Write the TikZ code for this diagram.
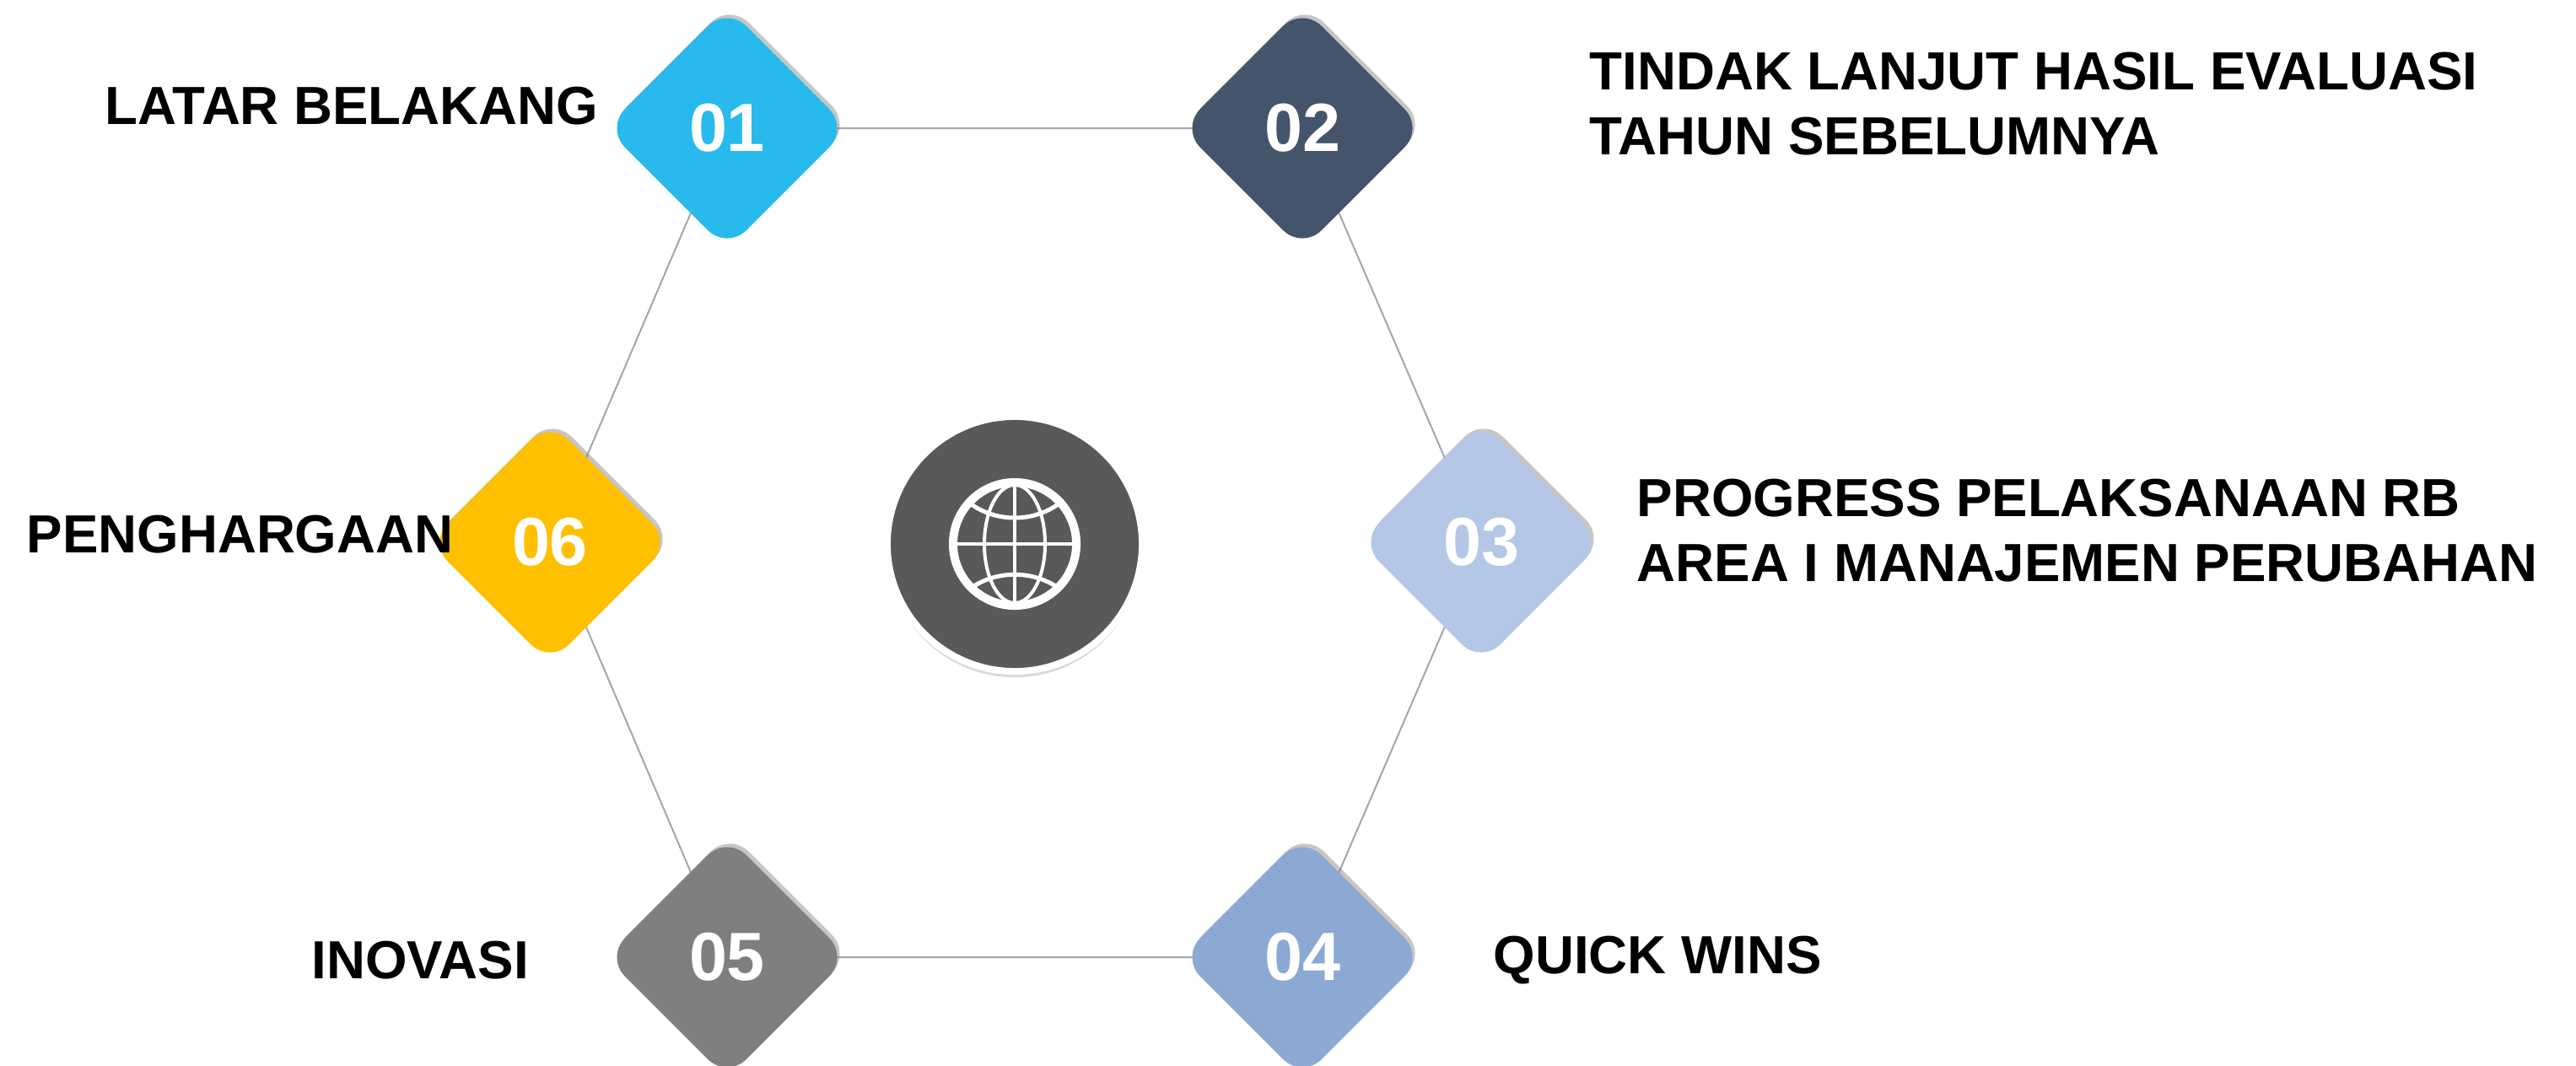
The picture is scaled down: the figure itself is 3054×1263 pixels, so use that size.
\documentclass[tikz,border=0pt]{standalone}
\usepackage{fontspec}
\setmainfont{Liberation Sans}
\usetikzlibrary{shapes.geometric,shadows,backgrounds}
\definecolor{tone1}{RGB}{41,186,237}
\definecolor{tone2}{RGB}{68,84,106}
\definecolor{tone3}{RGB}{180,199,231}
\definecolor{tone4}{RGB}{140,169,211}
\definecolor{tone5}{RGB}{127,127,127}
\definecolor{tone6}{RGB}{255,192,0}
\definecolor{hubgray}{RGB}{89,89,89}
\definecolor{linkgray}{RGB}{166,166,166}
\tikzset{
	tile/.style={diamond, minimum size=2.88cm, inner sep=0pt, rounded corners=0.32cm, fill=#1, text=white,
		font=\fontsize{23}{23}\selectfont\bfseries,
		drop shadow={shadow xshift=0.03cm, shadow yshift=0.04cm, opacity=0.45}},
	caption/.style={inner sep=0pt, align=left, font=\fontsize{18.1}{21.9}\selectfont\bfseries},
	link/.style={draw=linkgray, line width=0.02cm},
}

\begin{document}
\begin{tikzpicture}[x=0.01cm, y=-0.01cm]
			%%%%% START %%%%%
			
			\useasboundingbox (0,0) rectangle (3054,1263);
			
			\node[tile=tone1] (n1) at (862,152) {01};
			\node[tile=tone2] (n2) at (1544,152) {02};
			\node[tile=tone3] (n3) at (1756,643) {03};
			\node[tile=tone4] (n4) at (1544,1135) {04};
			\node[tile=tone5] (n5) at (862,1135) {05};
			\node[tile=tone6] (n6) at (652,643) {06};
			
			\begin{scope}[on background layer]
				\draw[link] (n1.center) -- (n2.center) -- (n3.center) -- (n4.center) -- (n5.center) -- (n6.center) -- cycle;
			\end{scope}
			
			\node[circle, minimum size=3.02cm, inner sep=0pt, fill=hubgray, draw=white, line width=0.08cm,
				drop shadow={shadow xshift=0cm, shadow yshift=-0.07cm, opacity=0.3}] (hub) at (1203,645) {};
			
			\begin{scope}[shift={(hub.center)}, draw=white, line cap=round]
				\draw[line width=0.1cm] (0,0) circle (0.73cm);
				\draw[line width=0.04cm] (0,0) ellipse (0.36cm and 0.7cm);
				\draw[line width=0.04cm] (0,-70) -- (0,70);
				\draw[line width=0.04cm] (-70,0) -- (70,0);
				\draw[line width=0.05cm] (-50,-46) .. controls (-20,-26) and (20,-26) .. (50,-46);
				\draw[line width=0.05cm] (-47,49) .. controls (-18,32) and (18,32) .. (47,49);
			\end{scope}
			
			\node[caption, anchor=base west] (t1) at (124,147) {LATAR BELAKANG};
			\node[caption, anchor=north west] (t2) at (1884,61) {TINDAK LANJUT HASIL EVALUASI\\TAHUN SEBELUMNYA};
			\node[caption, anchor=north west] (t3) at (1940,567) {PROGRESS PELAKSANAAN RB\\AREA I MANAJEMEN PERUBAHAN};
			\node[caption, anchor=base west] (t4) at (1770,1154) {QUICK WINS};
			\node[caption, anchor=base west] (t5) at (369,1160) {INOVASI};
			\node[caption, anchor=base west] (t6) at (31,655) {PENGHARGAAN};
			
			%%%%% END %%%%%
\end{tikzpicture}
\end{document}
